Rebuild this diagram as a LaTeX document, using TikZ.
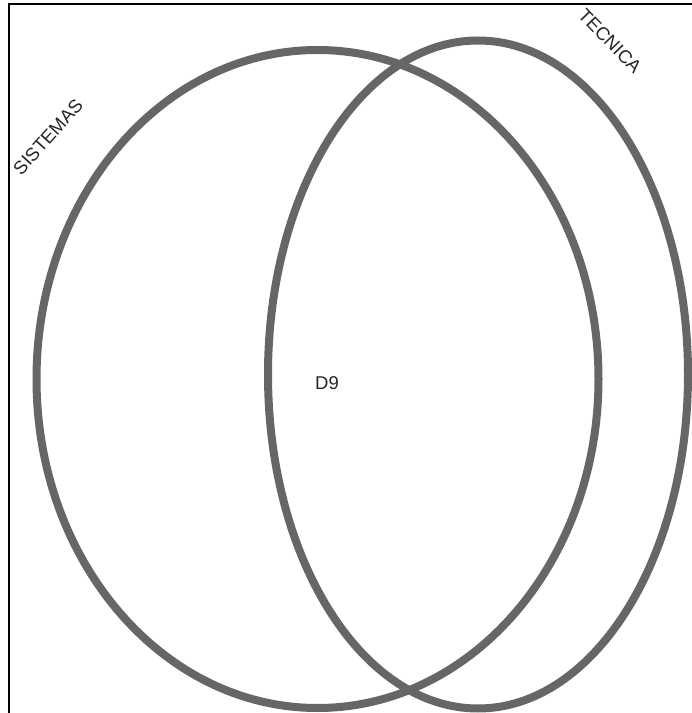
\documentclass[tikz,border=0pt]{standalone}
\usepackage{fontspec}
\setmainfont{Liberation Sans}
\begin{document}
\begin{tikzpicture}[x=1pt,y=1pt,
  venn/.style={draw=black!60, line width=8pt},
  lbl/.style={font=\fontsize{18.5}{21}\selectfont, text=black!85, inner sep=0pt}]
\useasboundingbox[fill=white] (0,0) rectangle (692,713);
\coordinate (tl) at (9,709);
\coordinate (tr) at (692,709);
\coordinate (bl) at (9,0);
\draw[line width=1.2pt] (bl) -- (tl) -- (tr);
\draw[venn] (317.5,334) ellipse [x radius=281, y radius=329];
\draw[venn] (478,338.5) ellipse [x radius=210, y radius=334];
\node[lbl, rotate=48] (sis) at (48,576) {SISTEMAS};
\node[lbl, rotate=-46] (tec) at (610,672) {TECNICA};
\node[lbl] (d9) at (327,330) {D9};
\end{tikzpicture}
\end{document}
